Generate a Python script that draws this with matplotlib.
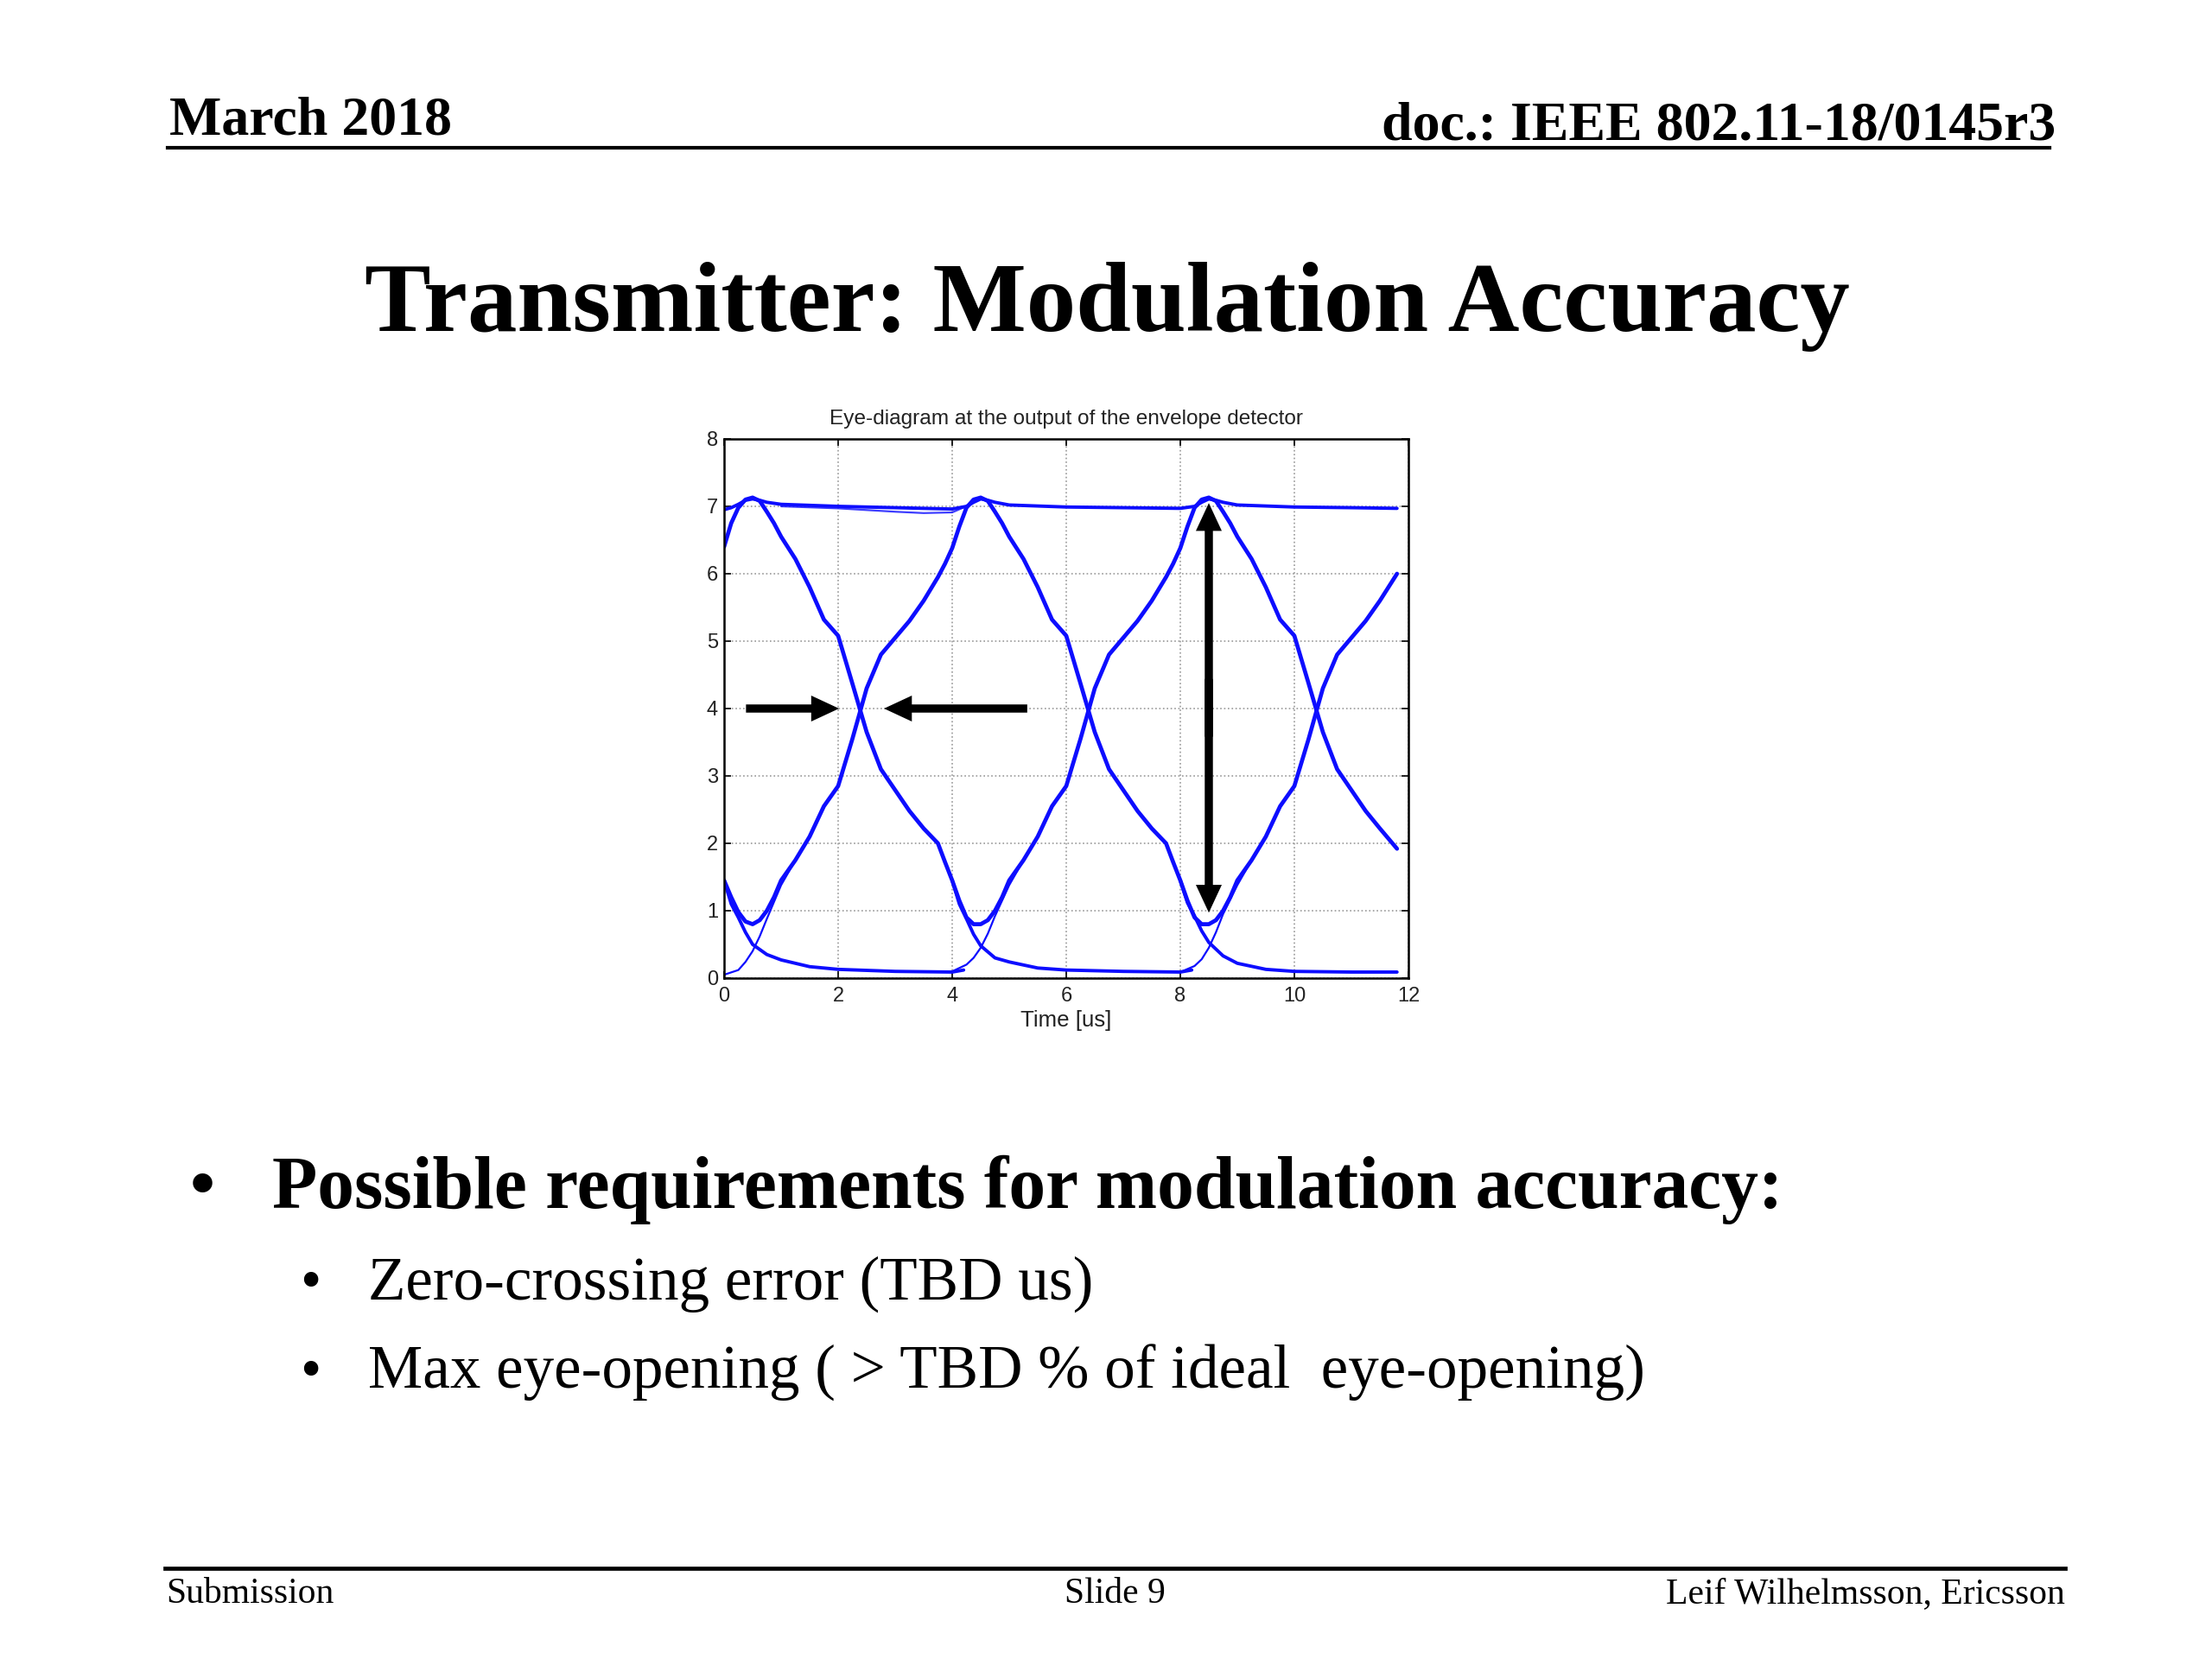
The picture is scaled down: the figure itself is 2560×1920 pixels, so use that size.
import numpy as np
import matplotlib
matplotlib.use("Agg")
import matplotlib.pyplot as plt
from matplotlib.patches import FancyArrowPatch
from matplotlib.lines import Line2D

W, H = 2560, 1920          # canvas in px
plt.rcParams["font.family"] = "Liberation Sans"
SERIF = "Liberation Serif"

# ---- eye diagram, values ----
# sample instants [us], denser round the peaks / troughs
t_eye = [0, 0.125, 0.25, 0.375, 0.5, 0.625, 0.75, 0.875, 1.0,
         1.25, 1.5, 1.75, 2.0, 2.25, 2.5, 2.75, 3.0, 3.25, 3.5, 3.75,
         3.875, 4.0, 4.125, 4.25, 4.375,
         4.5, 4.625, 4.75, 4.875, 5.0,
         5.25, 5.5, 5.75, 6.0, 6.25, 6.5, 6.75, 7.0, 7.25, 7.5, 7.75,
         7.875, 8.0, 8.125, 8.25, 8.375,
         8.5, 8.625, 8.75, 8.875, 9.0,
         9.25, 9.5, 9.75, 10.0, 10.25, 10.5, 10.75, 11.0, 11.25, 11.5,
         11.8]

# trace that starts high (peak 0.5, trough 4.5, peak 8.5)
eye_hi = [6.40, 6.75, 6.98, 7.10, 7.13, 7.08, 6.92, 6.75, 6.55,
          6.22, 5.80, 5.32, 5.08, 4.37, 3.65, 3.10, 2.79, 2.48, 2.22, 2.00,
          1.72, 1.45, 1.15, 0.90, 0.80,
          0.80, 0.86, 1.00, 1.20, 1.45,
          1.75, 2.10, 2.55, 2.85, 3.55, 4.30, 4.80, 5.05, 5.30, 5.60, 5.95,
          6.15, 6.38, 6.70, 6.98, 7.10,
          7.13, 7.08, 6.92, 6.75, 6.55,
          6.22, 5.80, 5.32, 5.08, 4.37, 3.65, 3.10, 2.79, 2.48, 2.22,
          1.92]
# trace that starts low (trough 0.5, peak 4.5, trough 8.5)
eye_lo = [1.45, 1.20, 0.98, 0.84, 0.80, 0.86, 1.00, 1.20, 1.45,
          1.75, 2.10, 2.55, 2.85, 3.55, 4.30, 4.80, 5.05, 5.30, 5.60, 5.95,
          6.15, 6.38, 6.70, 6.98, 7.10,
          7.13, 7.08, 6.92, 6.75, 6.55,
          6.22, 5.80, 5.32, 5.08, 4.37, 3.65, 3.10, 2.79, 2.48, 2.22, 2.00,
          1.72, 1.45, 1.15, 0.90, 0.80,
          0.80, 0.86, 1.00, 1.20, 1.45,
          1.75, 2.10, 2.55, 2.85, 3.55, 4.30, 4.80, 5.05, 5.30, 5.60,
          6.00]

# top plateau (runs of ones)
top_t = [0, 0.125, 0.25, 0.375, 0.5, 0.625, 0.75, 1.0, 2.0, 3.0, 4.0, 4.25, 4.375,
         4.5, 4.625, 4.75, 5.0, 6.0, 7.0, 8.0, 8.25, 8.375, 8.5, 8.625, 8.75, 9.0,
         10.0, 11.0, 11.8]
top_y = [6.95, 6.98, 7.03, 7.09, 7.11, 7.09, 7.06, 7.03, 7.00, 6.98, 6.96, 7.00,
         7.06, 7.11, 7.09, 7.06, 7.02, 6.99, 6.98, 6.97, 7.00, 7.06, 7.11, 7.09,
         7.06, 7.02, 6.99, 6.98, 6.97]
top2_t = [1.0, 2.0, 3.0, 3.5, 4.0, 4.3]
top2_y = [7.00, 6.97, 6.92, 6.90, 6.91, 7.02]

# drops into the floor (runs of zeros)
drop1_t = [0, 0.125, 0.25, 0.375, 0.5, 0.75, 1.0, 1.5, 2.0, 3.0, 4.0, 4.2]
drop1_y = [1.45, 1.10, 0.90, 0.68, 0.50, 0.35, 0.27, 0.17, 0.13, 0.10, 0.09, 0.12]
drop2_t = [4.0, 4.125, 4.25, 4.375, 4.5, 4.75, 5.0, 5.5, 6.0, 7.0, 8.0, 8.2]
drop2_y = [1.45, 1.10, 0.88, 0.65, 0.48, 0.30, 0.24, 0.15, 0.12, 0.10, 0.09, 0.12]
drop3_t = [8.0, 8.125, 8.25, 8.375, 8.5, 8.75, 9.0, 9.5, 10.0, 11.0, 11.8]
drop3_y = [1.45, 1.12, 0.92, 0.70, 0.53, 0.33, 0.22, 0.13, 0.10, 0.09, 0.09]

# lifts out of the floor
lift1_t = [0, 0.25, 0.375, 0.5, 0.625, 0.75, 1.0, 1.25]
lift1_y = [0.05, 0.12, 0.24, 0.40, 0.62, 0.88, 1.38, 1.75]
lift2_t = [4.0, 4.25, 4.375, 4.5, 4.625, 4.75, 5.0, 5.25]
lift2_y = [0.10, 0.20, 0.30, 0.45, 0.66, 0.92, 1.38, 1.75]
lift3_t = [8.0, 8.25, 8.375, 8.5, 8.625, 8.75, 9.0, 9.25]
lift3_y = [0.09, 0.18, 0.28, 0.45, 0.68, 0.95, 1.38, 1.75]

# black annotation arrows (data coords): tail -> tip
arr_right = [(0.30, 4.0), (2.10, 4.0)]
arr_left = [(5.40, 4.0), (2.72, 4.0)]
arr_vert = [(8.50, 0.90), (8.50, 7.12)]

fig = plt.figure(figsize=(12.8, 9.6), dpi=200)


def fx(x):
    return x / W


def fy(y):
    return 1 - y / H


# header / footer
fig.text(fx(196), fy(156), "March 2018", family=SERIF, weight="bold", fontsize=23)
fig.text(fx(2379), fy(162), "doc.: IEEE 802.11-18/0145r3", family=SERIF, weight="bold",
         fontsize=23, ha="right")
fig.add_artist(Line2D([fx(194), fx(2372)], [fy(171), fy(171)], color="black", lw=1.5,
                      transform=fig.transFigure))

fig.text(fx(1281), fy(383), "Transmitter: Modulation Accuracy", family=SERIF,
         weight="bold", fontsize=41.3, ha="center")

fig.add_artist(Line2D([fx(191), fx(2390)], [fy(1815), fy(1815)], color="black", lw=1.7,
                      transform=fig.transFigure))
fig.text(fx(192), fy(1855), "Submission", family=SERIF, fontsize=15)
fig.text(fx(1290), fy(1855), "Slide 9", family=SERIF, fontsize=15, ha="center")
fig.text(fx(2390), fy(1855), "Leif Wilhelmsson, Ericsson", family=SERIF, fontsize=15,
         ha="right")

# bullets
fig.text(fx(220), fy(1396), "\u2022", family=SERIF, weight="bold", fontsize=30)
fig.text(fx(315), fy(1398), "Possible requirements for modulation accuracy:",
         family=SERIF, weight="bold", fontsize=30.8)
fig.text(fx(347), fy(1504), "\u2022", family=SERIF, fontsize=25)
fig.text(fx(426), fy(1504), "Zero-crossing error (TBD us)", family=SERIF, fontsize=25.6)
fig.text(fx(347), fy(1607), "\u2022", family=SERIF, fontsize=25)
fig.text(fx(426), fy(1607), "Max eye-opening ( > TBD % of ideal  eye-opening)",
         family=SERIF, fontsize=25.6)

# ---- the chart ----
ax = fig.add_axes([fx(838), fy(1132), 792 / W, 624 / H])
blue = (0.05, 0.05, 1.0)
kw = dict(color=blue, solid_joinstyle="round", solid_capstyle="round")

ax.plot(top_t, top_y, lw=1.4, **kw)
ax.plot(top2_t, top2_y, lw=0.8, alpha=0.8, **kw)
for dt, dy in [(drop1_t, drop1_y), (drop2_t, drop2_y), (drop3_t, drop3_y)]:
    ax.plot(dt, dy, lw=1.4, **kw)
for lt, ly in [(lift1_t, lift1_y), (lift2_t, lift2_y), (lift3_t, lift3_y)]:
    ax.plot(lt, ly, lw=0.8, **kw)
ax.plot(t_eye, eye_hi, lw=1.7, **kw)
ax.plot(t_eye, eye_lo, lw=1.7, **kw)

style = "simple,head_length=0.58,head_width=0.54,tail_width=0.17"
for tail, tip in [arr_right, arr_left]:
    ax.add_patch(FancyArrowPatch(tail, tip, arrowstyle=style, mutation_scale=20,
                                 color="black", lw=0, zorder=5))
# double headed: two halves that overlap in the middle
xv = arr_vert[0][0]
mid = (arr_vert[0][1] + arr_vert[1][1]) / 2
for tip, start in [(arr_vert[1], mid - 0.5), (arr_vert[0], mid + 0.5)]:
    ax.add_patch(FancyArrowPatch((xv, start), tip, arrowstyle=style, mutation_scale=20,
                                 color="black", lw=0, zorder=5))

ax.set_xlim(0, 12)
ax.set_ylim(0, 8)
ax.set_xticks(range(0, 13, 2))
ax.set_yticks(range(0, 9))
ax.tick_params(direction="in", top=True, right=True, length=3, width=0.6,
               labelsize=8.5, labelcolor="#222222")
ax.tick_params(axis="x", pad=3.5)
ax.tick_params(axis="y", pad=2.5)
ax.grid(True, ls=":", color="#9a9a9a", lw=0.6)
for s in ax.spines.values():
    s.set_linewidth(0.9)
ax.set_title("Eye-diagram at the output of the envelope detector", fontsize=8.8, pad=6,
             color="#222222")
ax.set_xlabel("Time [us]", fontsize=9.3, labelpad=2, color="#222222")

fig.savefig("out.png", dpi=200, facecolor="white")
